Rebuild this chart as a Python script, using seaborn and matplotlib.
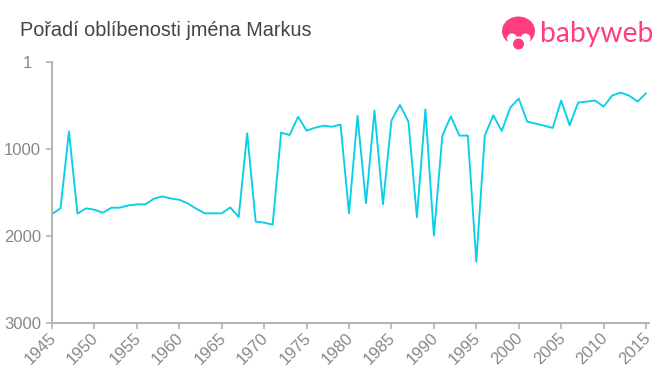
import matplotlib
matplotlib.use('Agg')
import matplotlib.pyplot as plt
from matplotlib.patches import Circle, Ellipse
from matplotlib.transforms import ScaledTranslation
import seaborn as sns
import pandas as pd

years = list(range(1945, 2016))
rank = [1748, 1683, 800, 1744, 1683, 1698, 1733, 1675, 1675, 1649,
        1637, 1637, 1572, 1546, 1569, 1584, 1626, 1687, 1740, 1740,
        1740, 1672, 1782, 820, 1836, 1847, 1870, 813, 840, 630,
        790, 756, 733, 744, 720, 1739, 620, 1625, 560, 1636,
        674, 494, 686, 1785, 544, 1996, 847, 625, 847, 847,
        2295, 847, 613, 793, 525, 421, 686, 709, 732, 759,
        444, 728, 467, 456, 444, 513, 387, 352, 387, 456, 360]
x_ticks = list(range(1945, 2016, 5))
y_ticks = [1, 1000, 2000, 3000]
title = 'Pořadí oblíbenosti jména Markus'
brand = 'babyweb'

df = pd.DataFrame({'year': years, 'rank': rank})

sns.set_style('white')
plt.rcParams['font.family'] = ['Liberation Sans', 'DejaVu Sans']

fig = plt.figure(figsize=(6.6, 3.75), dpi=100)
ax = fig.add_axes([52/660, 1-323/375, (649-52)/660, (323-62)/375])

sns.lineplot(data=df, x='year', y='rank', color='#08cfe8', linewidth=1.35, ax=ax)

ax.set_xlim(1945, 2015.35)
ax.set_ylim(3000, 1)
ax.set_xlabel('')
ax.set_ylabel('')
ax.set_xticks(x_ticks)
ax.set_yticks(y_ticks)
ax.tick_params(axis='x', length=4, width=1.2, color='#b3b3b3', labelcolor='#888888',
               labelsize=12, bottom=True, pad=2)
ax.tick_params(axis='y', length=4, width=1.2, color='#b3b3b3', labelcolor='#888888',
               labelsize=12, left=True, pad=4)
plt.setp(ax.get_xticklabels(), rotation=45, ha='right', rotation_mode='anchor')

# x labels sit a little left of where matplotlib puts them
shift = ScaledTranslation(-0.035, 0.01, fig.dpi_scale_trans)
for lab in ax.get_xticklabels():
    lab.set_transform(lab.get_transform() + shift)

# the "1" sits further left than the other y labels
lab = ax.get_yticklabels()[0]
lab.set_transform(lab.get_transform() + ScaledTranslation(-0.09, 0, fig.dpi_scale_trans))

for s in ['top', 'right']:
    ax.spines[s].set_visible(False)
for s in ['left', 'bottom']:
    ax.spines[s].set_color('#b3b3b3')
    ax.spines[s].set_linewidth(1.4)

fig.text(19.5/660, 1-30/375, title, fontsize=14.3, color='#444444', va='center')

# logo, drawn in pixel coordinates
logo = fig.add_axes([0, 0, 1, 1], facecolor='none')
logo.set_xlim(0, 660)
logo.set_ylim(375, 0)
logo.axis('off')
pink = '#ff3d7f'
logo.add_patch(Ellipse((518.5, 31), 33, 29, color=pink, lw=0))
logo.add_patch(Circle((512, 38.5), 5, color='white', lw=0))
logo.add_patch(Circle((525.5, 38.5), 5, color='white', lw=0))
logo.add_patch(Ellipse((518.5, 44), 28, 9, color='white', lw=0))
logo.add_patch(Circle((518.5, 44), 7.5, color='white', lw=0))
logo.add_patch(Circle((518.5, 44), 5.5, color=pink, lw=0))
logo.text(540, 34, brand, fontsize=20.3, color=pink, family='Lato', va='center')

fig.savefig('out.png', dpi=100)
